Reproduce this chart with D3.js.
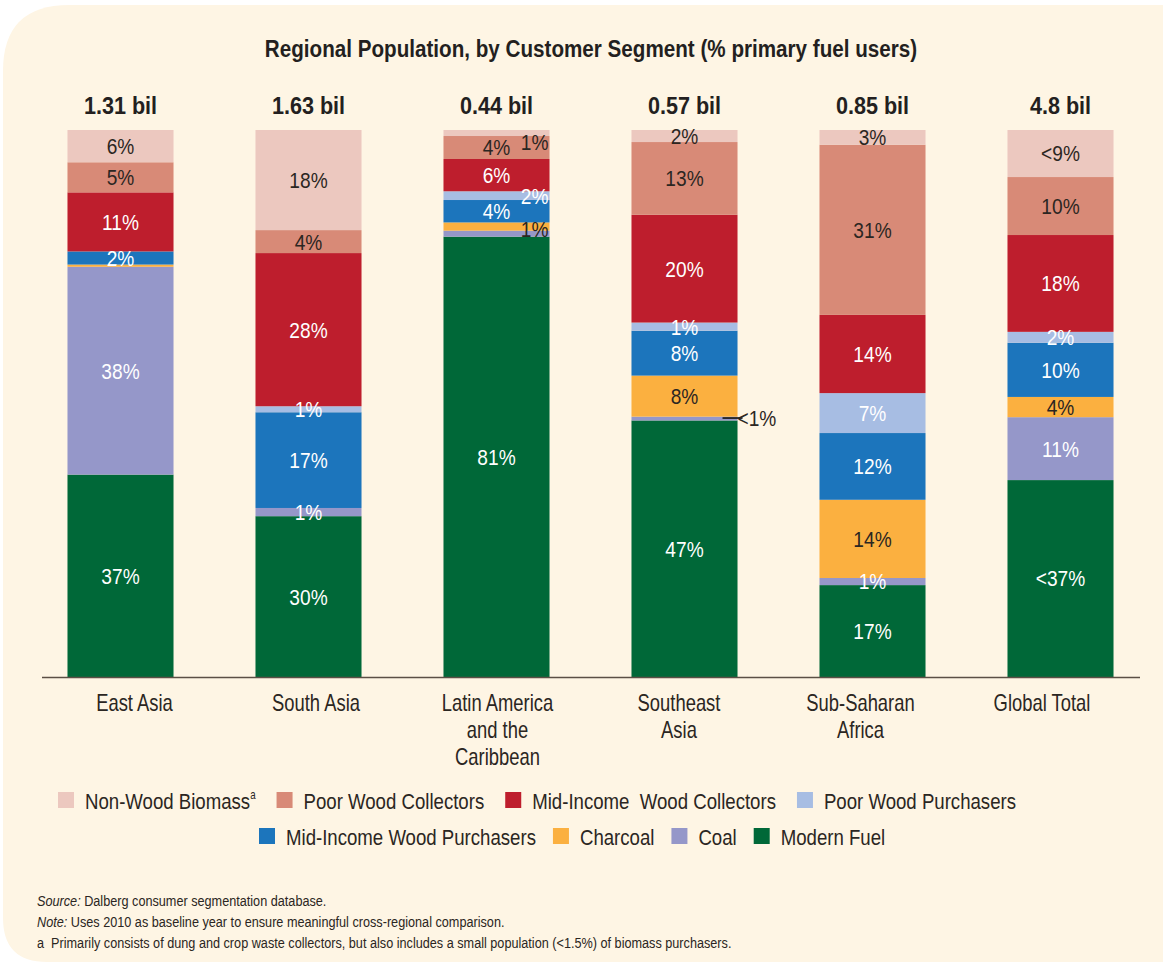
<!DOCTYPE html>
<html>
<head>
<meta charset="utf-8">
<script src="https://cdn.jsdelivr.net/npm/d3@7"></script>
<style>
  html, body { margin: 0; padding: 0; background: #ffffff; }
  svg { display: block; }
  text { font-family: "Liberation Sans", Arial, "DejaVu Sans", sans-serif; white-space: pre; }
</style>
</head>
<body>
<svg id="chart" width="1163" height="964"></svg>
<script>
// ---------------- DATA ----------------
const regions = [
  ["East Asia"],
  ["South Asia"],
  ["Latin America", "and the", "Caribbean"],
  ["Southeast", "Asia"],
  ["Sub-Saharan", "Africa"],
  ["Global Total"]
];
const totals = ["1.31 bil", "1.63 bil", "0.44 bil", "0.57 bil", "0.85 bil", "4.8 bil"];

const segmentNames = [
  "Non-Wood Biomass", "Poor Wood Collectors", "Mid-Income  Wood Collectors", "Poor Wood Purchasers",
  "Mid-Income Wood Purchasers", "Charcoal", "Coal", "Modern Fuel"
];

// values (% of region), one array per segment, in region order
const nonWood   = [5.9, 18.3, 1.1, 2.2, 2.7, 8.6];
const poorColl  = [5.5, 4.2, 4.2, 13.3, 31.1, 10.6];
const midColl   = [10.8, 28.0, 5.9, 19.7, 14.3, 17.7];
const poorPurch = [0, 1.1, 1.6, 1.5, 7.3, 2.0];
const midPurch  = [2.4, 17.5, 4.1, 8.2, 12.2, 9.9];
const charcoal  = [0.4, 0, 1.5, 7.5, 14.3, 3.7];
const coal      = [38.0, 1.5, 1.1, 0.7, 1.3, 11.5];
const modern    = [37.0, 29.4, 80.5, 46.9, 16.8, 36.0];

// printed labels
const nonWoodLbl   = ["6%", "18%", "1%", "2%", "3%", "<9%"];
const poorCollLbl  = ["5%", "4%", "4%", "13%", "31%", "10%"];
const midCollLbl   = ["11%", "28%", "6%", "20%", "14%", "18%"];
const poorPurchLbl = ["", "1%", "2%", "1%", "7%", "2%"];
const midPurchLbl  = ["2%", "17%", "4%", "8%", "12%", "10%"];
const charcoalLbl  = ["", "", "1%", "8%", "14%", "4%"];
const coalLbl      = ["38%", "1%", "", "<1%", "1%", "11%"];
const modernLbl    = ["37%", "30%", "81%", "47%", "17%", "<37%"];

// ---------------- STYLE ----------------
const seriesValues = [nonWood, poorColl, midColl, poorPurch, midPurch, charcoal, coal, modern];
const seriesLabels = [nonWoodLbl, poorCollLbl, midCollLbl, poorPurchLbl, midPurchLbl, charcoalLbl, coalLbl, modernLbl];
const colors = ["#ecc8bf", "#d88a77", "#be1e2d", "#a7bde3", "#1c75bc", "#fbb040", "#9597c9", "#006838"];
const darkText = [true, true, false, false, false, true, false, false];
const INK = "#2b2622";

const svg = d3.select("#chart");
const W = 1163;

// condensed text helper: horizontally squeezed text anchored at (x, y)
function ctext(parent, x, y, sx) {
  return parent.append("g").attr("transform", `translate(${x},${y}) scale(${sx},1)`)
    .append("text").attr("x", 0).attr("y", 0);
}

// background panel with rounded left corners
const px = 3, py = 5, pr = 66, pb = 962, rb = 44;
svg.append("path")
  .attr("d", `M${px + pr},${py} L${W},${py} L${W},${pb} L${px + rb},${pb} Q${px},${pb} ${px},${pb - rb} L${px},${py + pr} Q${px},${py} ${px + pr},${py} Z`)
  .attr("fill", "#fef5e4");

// scales
const keys = regions.map((r, i) => i);
const x = d3.scaleBand().domain(keys).range([26.5, 1154.5]).paddingInner(0.436).paddingOuter(0.218);
const xLabel = d3.scalePoint().domain(keys).range([134.5, 1042]);
const y = d3.scaleLinear().domain([0, 100]).range([677, 130]);

// stack: bottom is Modern Fuel, top is Non-Wood
const table = keys.map(i => {
  const o = { idx: i };
  segmentNames.forEach((s, k) => { o[k] = seriesValues[k][i]; });
  return o;
});
const stackOrder = d3.range(segmentNames.length).reverse();
const stacked = d3.stack().keys(stackOrder)(table);

const g = svg.append("g");
stacked.forEach(layer => {
  const k = layer.key;
  g.selectAll(null).data(layer).join("rect")
    .attr("x", d => x(d.data.idx))
    .attr("width", x.bandwidth())
    .attr("y", d => y(d[1]))
    .attr("height", d => Math.max(0, y(d[0]) - y(d[1])))
    .attr("fill", colors[k]);
});

// axis baseline
svg.append("line")
  .attr("x1", 42).attr("x2", 1140)
  .attr("y1", y(0) + 0.5).attr("y2", y(0) + 0.5)
  .attr("stroke", "#5b4f45").attr("stroke-width", 1.5);

// special label placements
const placement = {
  "2-0": { mode: "right", dy: 9 },
  "2-3": { mode: "right", dy: 0 },
  "2-5": { mode: "right", dy: 3 },
  "3-6": { mode: "leader" }
};

const LFS = 22, LSX = 0.87;
const lab = svg.append("g");
stacked.forEach(layer => {
  const k = layer.key;
  layer.forEach(d => {
    const i = d.data.idx;
    const t = seriesLabels[k][i];
    if (!t) return;
    const yc = (y(d[0]) + y(d[1])) / 2;
    const p = placement[i + "-" + k];
    let tx = x(i) + x.bandwidth() / 2, ty = yc, anchor = "middle", fill = darkText[k] ? INK : "#ffffff";
    if (p && p.mode === "right") {
      tx = x(i) + x.bandwidth() - 1; ty = yc + p.dy; anchor = "end";
    } else if (p && p.mode === "leader") {
      const x0 = x(i) + x.bandwidth() - 15;
      lab.append("line").attr("x1", x0).attr("x2", x0 + 20)
        .attr("y1", yc - 0.5).attr("y2", yc - 0.5)
        .attr("stroke", "#222").attr("stroke-width", 1.8);
      tx = x0 + 15; anchor = "start"; fill = INK;
    }
    ctext(lab, tx, ty + 0.36 * LFS, LSX)
      .attr("text-anchor", anchor)
      .attr("font-size", LFS)
      .attr("fill", fill)
      .text(t);
  });
});

// totals above bars
totals.forEach((t, i) => {
  ctext(svg, x(i) + x.bandwidth() / 2, 114, 0.9)
    .attr("text-anchor", "middle")
    .attr("font-size", 24).attr("font-weight", "bold").attr("fill", "#231f20")
    .text(t);
});

// title
ctext(svg, 591, 57, 0.86)
  .attr("text-anchor", "middle")
  .attr("font-size", 24).attr("font-weight", "bold").attr("fill", "#231f20")
  .text("Regional Population, by Customer Segment (% primary fuel users)");

// category labels
regions.forEach((lines, i) => {
  const t = ctext(svg, xLabel(i), 711, 0.8)
    .attr("text-anchor", "middle")
    .attr("font-size", 23).attr("fill", INK);
  lines.forEach((ln, j) => {
    t.append("tspan").attr("x", 0).attr("y", j * 27).text(ln);
  });
});

// legend
const rows = [[0, 1, 2, 3], [4, 5, 6, 7]];
const rowStart = [58, 259];
const rowY = [800, 836];
const GFS = 23, GSX = 0.81, SW = 16;
const leg = svg.append("g");
rows.forEach((row, r) => {
  let cx = rowStart[r];
  row.forEach(k => {
    leg.append("rect").attr("x", cx).attr("y", rowY[r] - 8).attr("width", SW).attr("height", SW).attr("fill", colors[k]);
    const t = ctext(leg, cx + SW + 11, rowY[r] + 8.5, GSX)
      .attr("font-size", GFS).attr("fill", INK);
    t.append("tspan").text(segmentNames[k]);
    if (k === 0) t.append("tspan").attr("font-size", 12).attr("dy", -10).text("a");
    const w = t.node().getComputedTextLength() * GSX;
    cx = cx + SW + 11 + w + (r === 0 ? 21 : 17);
  });
});

// footnotes
const FSX = 0.845, FFS = 15;
const f1 = ctext(svg, 37, 906, FSX).attr("font-size", FFS).attr("fill", INK);
f1.append("tspan").attr("font-style", "italic").text("Source:");
f1.append("tspan").text(" Dalberg consumer segmentation database.");
const f2 = ctext(svg, 37, 927, FSX).attr("font-size", FFS).attr("fill", INK);
f2.append("tspan").attr("font-style", "italic").text("Note:");
f2.append("tspan").text(" Uses 2010 as baseline year to ensure meaningful cross-regional comparison.");
ctext(svg, 37, 948, FSX).attr("font-size", FFS).attr("fill", INK)
  .text("a  Primarily consists of dung and crop waste collectors, but also includes a small population (<1.5%) of biomass purchasers.");
</script>
</body>
</html>
